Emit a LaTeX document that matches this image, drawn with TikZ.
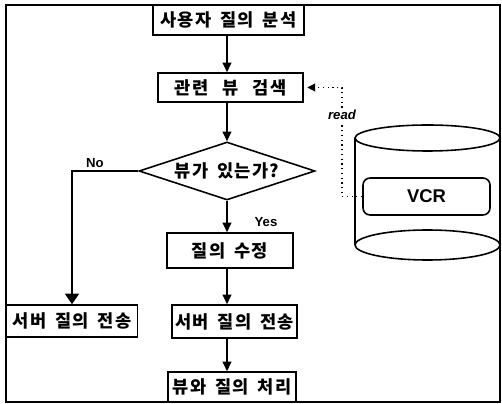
\documentclass[tikz,border=0pt]{standalone}
\usepackage{fontspec}
\setmainfont{Liberation Sans}
\newfontfamily\kr{Noto Sans CJK KR}[LetterSpace=8]
\usetikzlibrary{positioning, calc, arrows.meta, shapes.geometric}

\begin{document}
\begin{tikzpicture}[
  x=0.02cm, y=-0.02cm,
  stepbox/.style={rectangle, draw=black, line width=0.9pt, fill=white,
    font=\kr\bfseries\fontsize{10}{12}\selectfont, inner sep=0pt,
    execute at begin node={\spaceskip=0.5em\relax}},
  widespace/.style={execute at begin node={\spaceskip=0.8em\relax}},
  decide/.style={diamond, draw=black, line width=0.9pt, aspect=3,
    font=\kr\bfseries\fontsize{10}{12}\selectfont, inner sep=0pt,
    minimum width=3.52cm, minimum height=1.16cm,
    execute at begin node={\spaceskip=0.5em\relax}},
  store/.style={rectangle, rounded corners=4pt, draw=black, line width=0.9pt,
    font=\bfseries\fontsize{10.5}{12}\selectfont, minimum width=2.54cm,
    minimum height=0.74cm},
  arr/.style={-{Triangle[length=5.5pt, width=5pt]}, line width=0.9pt},
  bigarr/.style={-{Triangle[length=6pt, width=8pt]}, line width=0.9pt},
  readarr/.style={-{Triangle[length=4.5pt, width=4.5pt]}, line width=0.7pt,
    dotted, shorten >=2pt},
  tag/.style={font=\bfseries\fontsize{7.5}{8}\selectfont, inner sep=1pt}
]
  \useasboundingbox (0,0) rectangle (502,404);
  \draw[line width=1pt] (6,5) rectangle (500,402);

  \node[stepbox, minimum width=3.02cm, minimum height=0.6cm] (parse) at (228.5,20) {사용자 질의 분석};
  \node[stepbox, widespace, minimum width=2.9cm, minimum height=0.58cm] (find) at (230.5,87.5) {관련 뷰 검색};
  \node[decide] (hasview) at (227,171) {뷰가 있는가?};
  \node[stepbox, minimum width=2.52cm, minimum height=0.7cm] (rewrite) at (230,250.5) {질의 수정};
  \node[stepbox, minimum width=2.5cm, minimum height=0.66cm] (sendb) at (234.5,321.5) {서버 질의 전송};
  \node[stepbox, minimum width=2.56cm, minimum height=0.6cm] (process) at (232,387) {뷰와 질의 처리};
  \node[stepbox, minimum width=2.62cm, minimum height=0.64cm] (senda) at (72,321) {서버 질의 전송};

  \draw[line width=0.9pt] (355,138) -- (355,245) (500,138) -- (500,245);
  \draw[line width=0.9pt] (427.5,138) ellipse [x radius=72.5, y radius=13];
  \draw[line width=0.9pt] (427.5,245) ellipse [x radius=72.5, y radius=15];
  \node[store] (vcr) at (426.5,196.5) {VCR};

  \draw[arr] (parse.south -| hasview.north) -- (find.north -| hasview.north);
  \draw[arr] (find.south -| hasview.north) -- (hasview.north);
  \draw[arr] (hasview.south) -- (rewrite.north -| hasview.south);
  \draw[arr] (rewrite.south -| hasview.south) -- (sendb.north -| hasview.south);
  \draw[arr] (sendb.south -| hasview.south) -- (process.north -| hasview.south);
  \draw[bigarr] (hasview.west) -| (senda.north);

  \coordinate (bend) at (342,115);
  \draw[readarr] (vcr.west) -| (bend) |- (find.east);
  \node[tag, font=\bfseries\itshape\fontsize{7.5}{8}\selectfont, fill=white] (rd) at (bend) {read};

  \node[tag] (no) at (95,163) {No};
  \node[tag] (yes) at (266,222) {Yes};
\end{tikzpicture}
\end{document}
